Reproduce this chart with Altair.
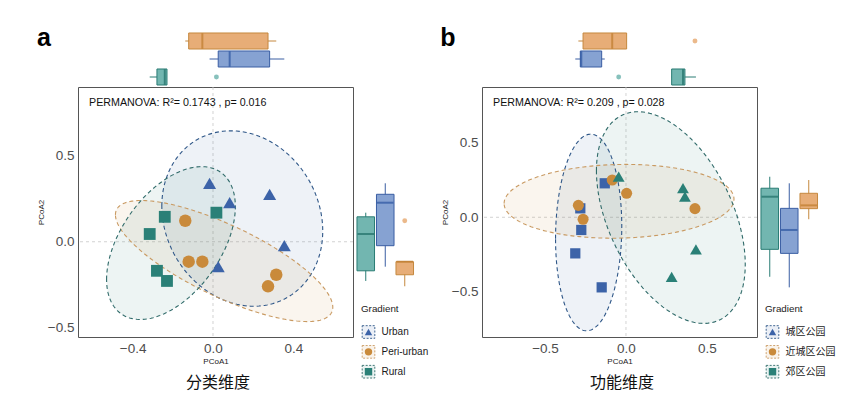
import numpy as np
import pandas as pd
import altair as alt

# ---------------- data ----------------
A_GROUPS = ["Urban", "Peri-urban", "Rural"]
A_URBAN_X = [-0.017, 0.083, 0.282, 0.355, 0.026]
A_URBAN_Y = [0.340, 0.227, 0.276, -0.023, -0.145]
A_PERI_X = [-0.138, -0.121, -0.053, 0.315, 0.274]
A_PERI_Y = [0.122, -0.116, -0.116, -0.192, -0.259]
A_RURAL_X = [-0.240, -0.315, 0.017, -0.279, -0.229]
A_RURAL_Y = [0.145, 0.045, 0.169, -0.169, -0.228]

B_GROUPS = ["城区公园", "近城区公园", "郊区公园"]
B_URBAN_X = [-0.131, -0.282, -0.276, -0.313, -0.150]
B_URBAN_Y = [0.228, 0.060, -0.085, -0.242, -0.470]
B_PERI_X = [-0.294, -0.265, -0.085, 0.004, 0.426]
B_PERI_Y = [0.080, -0.013, 0.250, 0.161, 0.058]
B_RURAL_X = [-0.045, 0.352, 0.364, 0.432, 0.282]
B_RURAL_Y = [0.272, 0.195, 0.138, -0.215, -0.399]

A_TEXT = "PERMANOVA: R²= 0.1743 , p= 0.016"
B_TEXT = "PERMANOVA: R²= 0.209 , p= 0.028"
A_TITLE = "分类维度"
B_TITLE = "功能维度"
A_XTICKS = [-0.4, 0.0, 0.4]
B_XTICKS = [-0.5, 0.0, 0.5]
YTICKS = [-0.5, 0.0, 0.5]
A_XDOM = [-0.672, 0.697]
A_YDOM = [-0.554, 0.900]
B_XDOM = [-0.889, 0.809]
B_YDOM = [-0.803, 0.874]
LEGEND_TITLE = "Gradient"

# ---------------- styles ----------------
PT_COLORS = ["#3C63A8", "#C98A3B", "#2A8077"]
BOX_FILL = ["#86A2D2", "#E7AD77", "#72B6B0"]
BOX_LINE = ["#3A5EA3", "#C5883E", "#2A7C74"]
MED_COL = ["#2B54A0", "#BD7A2C", "#1E6E67"]
ELL_LINE = ["#2F5788", "#C99A62", "#2F6A69"]
LEG_SHAPES = ["triangle-up", "circle", "square"]
FONT = "Liberation Sans"
CJK = "Noto Sans CJK SC"
W, H = 275, 250
R = float(np.sqrt(-2 * np.log(0.05)))  # 95% normal ellipse radius


def box_stats(groups, vals):
    rows, outs = [], []
    for g, v in zip(groups, vals):
        v = np.asarray(v, float)
        q1, med, q3 = np.percentile(v, [25, 50, 75])
        iqr = q3 - q1
        inside = v[(v >= q1 - 1.5 * iqr) & (v <= q3 + 1.5 * iqr)]
        rows.append(dict(g=g, lo=inside.min(), q1=q1, med=med, q3=q3, hi=inside.max()))
        for o in v[(v < q1 - 1.5 * iqr) | (v > q3 + 1.5 * iqr)]:
            outs.append(dict(g=g, v=float(o)))
    return pd.DataFrame(rows), pd.DataFrame(outs, columns=["g", "v"])


def ellipse(g, xs, ys):
    x = np.asarray(xs, float)
    y = np.asarray(ys, float)
    mx, my = x.mean(), y.mean()
    S = np.cov(x, y)
    a, b, c = S[0, 0], S[0, 1], S[1, 1]
    th = np.linspace(np.pi, 0, 91)
    dx = R * np.sqrt(a) * np.cos(th)
    yc = my + b / a * dx
    h = np.sqrt(np.clip((c - b * b / a) * (R * R - dx * dx / a), 0, None))
    area = pd.DataFrame(dict(g=g, x=mx + dx, lo=yc - h, hi=yc + h))
    ox = np.concatenate([mx + dx, (mx + dx)[::-1]])
    oy = np.concatenate([yc + h, (yc - h)[::-1]])
    line = pd.DataFrame(dict(g=g, x=ox, y=oy, o=np.arange(len(ox))))
    return area, line


def build_panel(groups, gx, gy, shapes, sizes, xdom, ydom, xticks, perm, letter,
                subtitle, lab_font):
    pts = pd.concat([pd.DataFrame(dict(g=g, x=x, y=y)) for g, x, y in zip(groups, gx, gy)])
    el = [ellipse(g, x, y) for g, x, y in zip(groups, gx, gy)]
    ell_area = pd.concat([e[0] for e in el])
    ell_line = pd.concat([e[1] for e in el])
    top_s, top_o = box_stats(groups, gx)
    rgt_s, rgt_o = box_stats(groups, gy)

    xsc = alt.Scale(domain=xdom, nice=False, zero=False)
    ysc = alt.Scale(domain=ydom, nice=False, zero=False)
    col = alt.Scale(domain=groups, range=PT_COLORS)
    estroke = alt.Scale(domain=groups, range=ELL_LINE)
    bfill = alt.Scale(domain=groups, range=BOX_FILL)
    bline = alt.Scale(domain=groups, range=BOX_LINE)
    bmed = alt.Scale(domain=groups, range=MED_COL)

    xax = alt.Axis(values=xticks, format=".1f", title="PCoA1")
    yax = alt.Axis(values=YTICKS, format=".1f", title="PCoA2")

    zero = pd.DataFrame({"z": [0.0]})
    vref = alt.Chart(zero).mark_rule(color="#C8C8C8", strokeDash=[3, 3], strokeWidth=0.8).encode(
        x=alt.X("z:Q", scale=xsc, axis=xax))
    href = alt.Chart(zero).mark_rule(color="#C8C8C8", strokeDash=[3, 3], strokeWidth=0.8).encode(
        y=alt.Y("z:Q", scale=ysc, axis=yax))
    areas = alt.Chart(ell_area).mark_area(orient="vertical", opacity=0.085).encode(
        x=alt.X("x:Q", scale=xsc, axis=xax),
        y=alt.Y("lo:Q", scale=ysc, axis=yax), y2="hi:Q",
        color=alt.Color("g:N", scale=col, legend=None), detail="g:N")
    outlines = alt.Chart(ell_line).mark_line(strokeDash=[4, 3], strokeWidth=1.1).encode(
        x=alt.X("x:Q", scale=xsc, axis=xax),
        y=alt.Y("y:Q", scale=ysc, axis=yax),
        order="o:Q",
        stroke=alt.Stroke("g:N", scale=estroke, legend=None), detail="g:N")
    points = alt.Chart(pts).mark_point(filled=True, opacity=1).encode(
        x=alt.X("x:Q", scale=xsc, axis=xax),
        y=alt.Y("y:Q", scale=ysc, axis=yax),
        color=alt.Color("g:N", scale=col, legend=None),
        shape=alt.Shape("g:N", scale=alt.Scale(domain=groups, range=shapes), legend=None),
        size=alt.Size("g:N", scale=alt.Scale(domain=groups, range=sizes), legend=None))
    core = alt.layer(vref, href, areas, outlines, points)

    # ---- top marginal boxplots (PCoA1) ----
    tband = alt.Scale(type="band", domain=[groups[1], groups[0], groups[2]],
                      range=[-55, -1], paddingInner=0.11, paddingOuter=0.055)
    ty = alt.Y("g:N", scale=tband, axis=None)
    t_wh = alt.Chart(top_s).mark_rule(strokeWidth=1).encode(
        x=alt.X("lo:Q", scale=xsc, axis=None), x2="hi:Q", y=ty,
        stroke=alt.Stroke("g:N", scale=bline, legend=None))
    t_box = alt.Chart(top_s).mark_bar(strokeWidth=1).encode(
        x=alt.X("q1:Q", scale=xsc, axis=None), x2="q3:Q", y=ty,
        fill=alt.Fill("g:N", scale=bfill, legend=None),
        stroke=alt.Stroke("g:N", scale=bline, legend=None))
    t_med = alt.Chart(top_s).mark_tick(orient="vertical", thickness=2, size=15.5).encode(
        x=alt.X("med:Q", scale=xsc, axis=None), y=ty,
        color=alt.Color("g:N", scale=bmed, legend=None))
    t_out = alt.Chart(top_o).mark_circle(size=24, opacity=0.85).encode(
        x=alt.X("v:Q", scale=xsc, axis=None), y=ty,
        fill=alt.Fill("g:N", scale=bfill, legend=None))
    top = alt.layer(t_wh, t_box, t_med, t_out)

    # ---- right marginal boxplots (PCoA2) ----
    rband = alt.Scale(type="band", domain=[groups[2], groups[0], groups[1]],
                      range=[278, 336.5], paddingInner=0.1, paddingOuter=0.05)
    rx = alt.X("g:N", scale=rband, axis=None)
    r_wh = alt.Chart(rgt_s).mark_rule(strokeWidth=1).encode(
        y=alt.Y("lo:Q", scale=ysc, axis=None), y2="hi:Q", x=rx,
        stroke=alt.Stroke("g:N", scale=bline, legend=None))
    r_box = alt.Chart(rgt_s).mark_bar(strokeWidth=1).encode(
        y=alt.Y("q1:Q", scale=ysc, axis=None), y2="q3:Q", x=rx,
        fill=alt.Fill("g:N", scale=bfill, legend=None),
        stroke=alt.Stroke("g:N", scale=bline, legend=None))
    r_med = alt.Chart(rgt_s).mark_tick(orient="horizontal", thickness=2, size=16.5).encode(
        y=alt.Y("med:Q", scale=ysc, axis=None), x=rx,
        color=alt.Color("g:N", scale=bmed, legend=None))
    r_out = alt.Chart(rgt_o).mark_circle(size=24, opacity=0.85).encode(
        y=alt.Y("v:Q", scale=ysc, axis=None), x=rx,
        fill=alt.Fill("g:N", scale=bfill, legend=None))
    right = alt.layer(r_wh, r_box, r_med, r_out)

    # ---- legend drawn as marks ----
    leg = pd.DataFrame({"g": groups})
    ly = alt.Y("g:N", scale=alt.Scale(type="point", domain=groups, range=[245, 284.7], padding=0),
               axis=None)
    l_key = alt.Chart(leg).mark_square(size=160, filled=True, fillOpacity=0.1, strokeOpacity=1,
                                       strokeWidth=0.9, strokeDash=[2, 1.5]).encode(
        x=alt.value(290.5), y=ly,
        fill=alt.Fill("g:N", scale=col, legend=None),
        stroke=alt.Stroke("g:N", scale=estroke, legend=None))
    l_sym = alt.Chart(leg).mark_point(filled=True, size=55, opacity=1).encode(
        x=alt.value(290.5), y=ly,
        color=alt.Color("g:N", scale=col, legend=None),
        shape=alt.Shape("g:N", scale=alt.Scale(domain=groups, range=LEG_SHAPES), legend=None))
    l_txt = alt.Chart(leg).mark_text(align="left", baseline="middle", fontSize=10, font=lab_font,
                                     color="#1a1a1a").encode(
        x=alt.value(303.5), y=ly, text="g:N")
    l_title = alt.Chart(pd.DataFrame({"t": [LEGEND_TITLE]})).mark_text(
        align="left", baseline="middle", fontSize=9.8, font=FONT, color="#1a1a1a").encode(
        x=alt.value(283), y=alt.value(222), text="t:N")

    # ---- annotations ----
    t_perm = alt.Chart(pd.DataFrame({"t": [perm]})).mark_text(
        align="left", baseline="middle", fontSize=10.7, font=FONT, color="#111111").encode(
        x=alt.value(11), y=alt.value(16.3), text="t:N")
    t_letter = alt.Chart(pd.DataFrame({"t": [letter]})).mark_text(
        align="center", baseline="alphabetic", fontSize=25, fontWeight="bold", font=FONT,
        color="#000000").encode(x=alt.value(-34), y=alt.value(-41.5), text="t:N")
    t_sub = alt.Chart(pd.DataFrame({"t": [subtitle]})).mark_text(
        align="center", baseline="middle", fontSize=16, font=CJK, color="#111111").encode(
        x=alt.value(140), y=alt.value(296), text="t:N")

    return alt.layer(core, top, right, l_key, l_sym, l_txt, l_title, t_perm, t_letter, t_sub).resolve_scale(
        x="independent", y="independent", color="independent", fill="independent",
        stroke="independent", shape="independent", size="independent"
    ).properties(width=W, height=H)


panel_a = build_panel(A_GROUPS, [A_URBAN_X, A_PERI_X, A_RURAL_X], [A_URBAN_Y, A_PERI_Y, A_RURAL_Y],
                      ["triangle-up", "circle", "square"], [170, 140, 105],
                      A_XDOM, A_YDOM, A_XTICKS, A_TEXT, "a", A_TITLE, FONT)
panel_b = build_panel(B_GROUPS, [B_URBAN_X, B_PERI_X, B_RURAL_X], [B_URBAN_Y, B_PERI_Y, B_RURAL_Y],
                      ["square", "circle", "triangle-up"], [105, 140, 170],
                      B_XDOM, B_YDOM, B_XTICKS, B_TEXT, "b", B_TITLE, CJK)

chart = alt.hconcat(panel_a, panel_b, spacing=10).properties(
    padding={"left": 28, "top": 17, "right": 0, "bottom": 0}
).configure_view(stroke="#555555", strokeWidth=1).configure_axis(
    domain=False, grid=False, ticks=False, labelFont=FONT, labelFontSize=13.5,
    labelColor="#4D4D4D", labelPadding=4, titleFont=FONT, titleFontSize=8,
    titleFontWeight="normal", titleColor="#1a1a1a"
).configure_axisX(titlePadding=3).configure_axisY(titlePadding=2)

chart.save("out.html", embed_options={"renderer": "svg", "actions": False})
